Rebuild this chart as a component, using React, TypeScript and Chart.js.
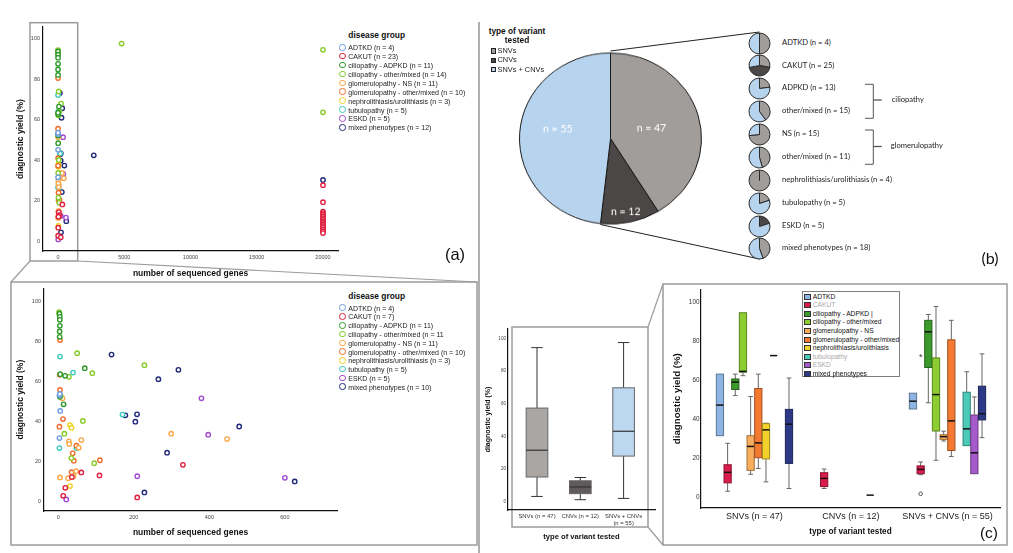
import React, { useEffect, useRef } from "react";
import { Chart, registerables } from "chart.js";

Chart.register(...registerables);

const SANS = '"Liberation Sans", Arial, Helvetica, sans-serif';
const CAL = 'Lato, "Open Sans", sans-serif';
Chart.defaults.font.family = SANS;

const W = 1013;
const H = 553;

// ---------------- (a) scatter data ----------------
const DISEASE_GROUPS = [
  "ADTKD",
  "CAKUT",
  "ciliopathy - ADPKD",
  "ciliopathy - other/mixed",
  "glomerulopathy - NS",
  "glomerulopathy - other/mixed",
  "nephrolithiasis/urolithiasis",
  "tubulopathy",
  "ESKD",
  "mixed phenotypes",
];
const N_ALL_STUDIES = ["4", "23", "11", "14", "11", "10", "3", "5", "5", "12"];
const LEGEND_ALL = DISEASE_GROUPS.map((g, i) => `${g} (n = ${N_ALL_STUDIES[i]})`);
const LEGEND_ZOOM = [
  "ADTKD (n = 4)",
  "CAKUT (n = 7)",
  "ciliopathy - ADPKD (n = 11)",
  "ciliopathy - other/mixed (n = 11",
  "glomerulopathy - NS (n = 11)",
  "glomerulopathy - other/mixed (n = 10)",
  "nephrolithiasis/urolithiasis (n = 3)",
  "tubulopathy (n = 5)",
  "ESKD (n = 5)",
  "mixed phenotypes (n = 10)",
];
const SCATTER_COLORS = [
  "#6d9ede", "#e0203f", "#2f9a2a", "#86cc2a", "#f9a84a",
  "#f26b2a", "#eed21a", "#3ec9bf", "#a24ad0", "#21297a",
];

// [number of sequenced genes, diagnostic yield %]
const PTS_ADTKD = [[3, 52.9], [4, 53.6], [5, 45.1], [3, 31.5]];
const PTS_CAKUT = [[61, 14.3], [109, 12.8], [18.5, 6.6], [13, 2.6], [209, 1.8], [330, 18.1], [36, 12]];
const PTS_ADPKD = [[3, 93.8], [4, 92.2], [4, 90.7], [4, 87.7], [3.5, 84.9], [3.5, 82.2], [70, 66.5], [18, 62.7], [5, 63.5], [4, 52.2], [14, 48.4]];
const PTS_CILIO_OTHER = [[2, 94.5], [3, 93.3], [50, 74], [228, 68], [90, 64], [28, 62.2], [6, 52.8], [65, 40.1], [16, 33.7], [34.5, 21.5], [95, 18.9]];
const PTS_NS = [[11, 51.4], [61, 30.5], [28, 29.9], [29, 28.5], [54, 26.7], [47, 14.9], [4.5, 11.8], [26, 11.4], [40, 12.3], [299, 33.7], [447, 31]];
const PTS_GLOM_OTHER = [[4.5, 80.6], [3.7, 63.2], [4.5, 55.6], [12.5, 41], [3, 37.2], [48, 27.7], [38, 23.9], [41, 20.2], [110, 20.4], [35, 14.4]];
const PTS_NEPHRO = [[31, 38], [35, 36.7], [31, 7.5]];
const PTS_TUBULO = [[4.5, 72.3], [39, 64.3], [48, 26.5], [3, 26.5], [170, 43.3]];
const PTS_ESKD = [[21, 0.8], [209, 12.4], [379, 51.4], [397, 33.2], [600, 11.6]];
const PTS_MIXED = [[141, 73.3], [177.5, 42.9], [208.5, 43.4], [204, 39.7], [228, 4.3], [265, 61], [288, 24.2], [318, 65.7], [479, 37.3], [626, 9.8]];

// studies with more than ~650 genes (only in the full view)
const EXTRA_CAKUT = [
  [20000, 27.6], [20000, 19.2], [20000, 14.5], [20000, 13.7], [20000, 12.9], [20000, 12.1],
  [20000, 11.3], [20000, 10.5], [20000, 9.7], [20000, 8.9], [20000, 8.1], [20000, 7.3],
  [20000, 6.5], [20000, 5.6], [20000, 4.7], [20000, 3.9],
];
const EXTRA_CILIO_OTHER = [[4800, 97.7], [20000, 94.6], [20000, 63.7]];
const EXTRA_MIXED = [[2700, 42.4], [20000, 30.2]];

const ZOOM_POINTS = [
  PTS_ADTKD, PTS_CAKUT, PTS_ADPKD, PTS_CILIO_OTHER, PTS_NS,
  PTS_GLOM_OTHER, PTS_NEPHRO, PTS_TUBULO, PTS_ESKD, PTS_MIXED,
];
const EXTRA_POINTS = [[], EXTRA_CAKUT, [], EXTRA_CILIO_OTHER, [], [], [], [], [], EXTRA_MIXED];
const ALL_POINTS = ZOOM_POINTS.map((p, i) => [...p, ...EXTRA_POINTS[i]]);

const X_TICKS_ALL = [0, 5000, 10000, 15000, 20000];
const X_TICKS_ZOOM = [0, 200, 400, 600];
const Y_TICKS = [0, 20, 40, 60, 80, 100];

// ---------------- (b) pie data ----------------
const VARIANT_TYPES = ["SNVs", "CNVs", "SNVs + CNVs"];
const VARIANT_N = [47, 12, 55];
const VARIANT_COLORS = ["#a19d9a", "#4b4746", "#b7d4ee"];
const PIE_LABEL_R = [0.465, 0.87, 0.59];
const PIE_LABEL_SHIFT = [1, 1.5, 8];

const SUBGROUP_LABELS = [
  "ADTKD (n = 4)",
  "CAKUT (n = 25)",
  "ADPKD (n = 13)",
  "other/mixed (n = 15)",
  "NS (n = 15)",
  "other/mixed (n = 11)",
  "nephrolithiasis/urolithiasis (n = 4)",
  "tubulopathy (n = 5)",
  "ESKD (n = 5)",
  "mixed phenotypes (n = 18)",
];
const SUB_SNV = [2, 7, 3, 6, 11, 5, 4, 1, 0, 8];
const SUB_CNV = [0, 11, 0, 0, 0, 0, 0, 0, 1, 0];
const SUB_BOTH = [2, 7, 10, 9, 4, 6, 0, 4, 4, 10];

// ---------------- (c) box plot data: [min, q1, median, q3, max] ----------------
const VARIANT_TICKS = ["SNVs (n = 47)", "CNVs (n = 12)", ["SNVs + CNVs", "(n = 55)"]];
const VARIANT_BOX = [
  [3.2, 15.1, 31.5, 57.3, 94.3],
  [1.2, 4.9, 9, 12.8, 14.8],
  [2, 27.9, 43.1, 69.7, 97.4],
];
const VARIANT_BOX_COLORS = ["#aaa6a4", "#5f5b5a", "#bcd7f0"];

const BOX_GROUPS = ["SNVs (n = 47)", "CNVs (n = 12)", "SNVs + CNVs (n = 55)"];
const BOX_SNV = [
  [31.5, 31.5, 47.2, 63.1, 63.1],
  [3, 7.3, 12.7, 16.6, 27.6],
  [52.1, 55.2, 59, 60.6, 63.1],
  [62.3, 64.1, 64.5, 94.6, 94.6],
  [11.7, 13.7, 26, 31.5, 51.6],
  [14.7, 20.2, 27.8, 55.7, 63.1],
  [7.8, 19.6, 34.5, 37.7, 37.9],
  [72.6, 72.6, 72.6, 72.6, 72.6],
  null,
  [4.4, 17.3, 37.4, 45, 61.1],
];
const BOX_CNV = [
  null,
  [4.4, 5.4, 9.6, 12.5, 14.4],
  null, null, null, null, null,
  [1, 1, 1, 1, 1],
  null, null,
];
const BOX_BOTH = [
  [45.2, 45.2, 49.2, 53.3, 53.3],
  [11.5, 12, 14.2, 16, 18],
  [48.4, 66.5, 84.8, 90.7, 93.7],
  [18.9, 33.9, 52.6, 71.4, 97.8],
  [28.8, 29.6, 31, 32, 33.8],
  [20.8, 23.9, 39.1, 80.7, 90.7],
  null,
  [26.4, 26.4, 35, 53.8, 64.3],
  [12, 12, 22.7, 42.1, 51.4],
  [30.5, 39.6, 42.8, 56.9, 73.5],
];
// outliers: [group index, disease index, value, marker]
const BOX_OUTLIERS = [
  [2, 1, 1.7, "o"],
  [2, 1, 72.9, "*"],
];
const BOX_COLORS = [
  "#8db4e2", "#d91c4c", "#3c9a2c", "#8ccd30", "#f8ad5c",
  "#f47a32", "#f2d22a", "#4ccab8", "#a55bca", "#2d3987",
];
const C_LEGEND_LABELS = [
  "ADTKD",
  "CAKUT",
  "ciliopathy - ADPKD |",
  "ciliopathy - other/mixed",
  "glomerulopathy - NS",
  "glomerulopathy - other/mixed",
  "nephrolithiasis/urolithiasis",
  "tubulopathy",
  "ESKD",
  "mixed phenotypes",
];
const C_LEGEND_TEXT = ["#111", "#a8a8a8", "#111", "#111", "#111", "#111", "#111", "#a8a8a8", "#a8a8a8", "#111"];

const SLOT = 0.0795;

// ---------------- helpers ----------------
function shade(hex: string, f: number) {
  const n = parseInt(hex.slice(1), 16);
  const r = Math.round(((n >> 16) & 255) * f);
  const g = Math.round(((n >> 8) & 255) * f);
  const b = Math.round((n & 255) * f);
  return `rgb(${r},${g},${b})`;
}

function fixedTicks(list: number[]) {
  return (s: any) => {
    s.ticks = list.map((v) => ({ value: v }));
  };
}

function boxPlugin(boxes: any[], st: any) {
  return {
    id: "boxdraw",
    afterDatasetsDraw(chart: any) {
      const { ctx } = chart;
      const xs = chart.scales.x;
      const ys = chart.scales.y;
      const py = (v: number) => ys.getPixelForValue(v);
      ctx.save();
      for (const b of boxes) {
        const cx = xs.getPixelForValue(b.x);
        const hw = Math.abs(xs.getPixelForValue(b.x + b.w / 2) - cx);
        const cw = hw * st.cap;
        const [mn, q1, md, q3, mx] = b.s;
        ctx.strokeStyle = st.whisker;
        ctx.lineWidth = st.whiskerWidth;
        ctx.beginPath();
        if (mx > q3) {
          ctx.moveTo(cx, py(q3));
          ctx.lineTo(cx, py(mx));
          ctx.moveTo(cx - cw, py(mx));
          ctx.lineTo(cx + cw, py(mx));
        }
        if (mn < q1) {
          ctx.moveTo(cx, py(q1));
          ctx.lineTo(cx, py(mn));
          ctx.moveTo(cx - cw, py(mn));
          ctx.lineTo(cx + cw, py(mn));
        }
        ctx.stroke();
        if (q3 > q1) {
          ctx.fillStyle = b.color;
          ctx.fillRect(cx - hw, py(q3), 2 * hw, py(q1) - py(q3));
          ctx.strokeStyle = b.border;
          ctx.lineWidth = st.boxBorder;
          ctx.strokeRect(cx - hw, py(q3), 2 * hw, py(q1) - py(q3));
        }
        ctx.strokeStyle = st.median;
        ctx.lineWidth = st.medianWidth;
        ctx.beginPath();
        ctx.moveTo(cx - hw, py(md));
        ctx.lineTo(cx + hw, py(md));
        ctx.stroke();
        for (const o of b.out || []) {
          if (o.m === "o") {
            ctx.strokeStyle = "#555";
            ctx.lineWidth = 1;
            ctx.beginPath();
            ctx.arc(cx, py(o.v), 1.8, 0, Math.PI * 2);
            ctx.stroke();
          } else {
            ctx.fillStyle = "#333";
            ctx.font = `9px ${SANS}`;
            ctx.textAlign = "center";
            ctx.textBaseline = "middle";
            ctx.fillText("*", cx, py(o.v) + 2);
          }
        }
      }
      ctx.restore();
    },
  };
}

function scatterConfig(groups: number[][][], o: any) {
  return {
    type: "scatter",
    data: {
      datasets: groups.map((pts, i) => ({
        label: DISEASE_GROUPS[i],
        data: pts.map(([x, y]) => ({ x, y })),
        borderColor: SCATTER_COLORS[i],
        backgroundColor: "#ffffff",
        pointBackgroundColor: "#ffffff",
        pointBorderColor: SCATTER_COLORS[i],
        pointRadius: 2.2,
        pointBorderWidth: 1.4,
        borderWidth: 1.4,
      })),
    },
    options: {
      responsive: false,
      animation: false,
      devicePixelRatio: 1,
      events: [],
      layout: { padding: { left: 0, top: o.padTop, right: o.padRight, bottom: 0 } },
      plugins: { legend: { display: false }, tooltip: { enabled: false } },
      scales: {
        x: {
          type: "linear",
          min: o.xMin,
          max: o.xMax,
          afterBuildTicks: fixedTicks(o.xTicks),
          afterFit: (s: any) => {
            s.height = o.xH;
          },
          grid: { display: false, drawTicks: false },
          border: { display: true, color: "#111", width: 1.2 },
          ticks: {
            autoSkip: false,
            maxRotation: 0,
            font: { size: 5.5 },
            color: "#444",
            padding: 3.5,
            callback: (v: any) => String(v),
          },
          title: {
            display: true,
            text: "number of sequenced genes",
            color: "#111",
            font: { size: 8.5, weight: "bold" },
            padding: { top: 0, bottom: o.titleBottom },
          },
        },
        y: {
          type: "linear",
          min: o.yMin,
          max: o.yMax,
          afterBuildTicks: fixedTicks(Y_TICKS),
          afterFit: (s: any) => {
            s.width = o.yW;
          },
          grid: { display: false, drawTicks: false },
          border: { display: true, color: "#111", width: 1.2 },
          ticks: { autoSkip: false, font: { size: 5.5 }, color: "#444", padding: 3 },
          title: {
            display: true,
            text: "diagnostic yield (%)",
            color: "#111",
            font: { size: 8.5, weight: "bold" },
            padding: { top: o.yTitlePad, bottom: 0 },
          },
        },
      },
    },
  };
}

function buildScatterAll() {
  return scatterConfig(ALL_POINTS, {
    xMin: -1132, xMax: 21132, yMin: -4.95, yMax: 105.9,
    xTicks: X_TICKS_ALL, padTop: 7, padRight: 7, yW: 43, xH: 29,
    titleBottom: 1, yTitlePad: 15.4,
  });
}

function buildScatterZoom() {
  return scatterConfig(ZOOM_POINTS, {
    xMin: -37.9, xMax: 738, yMin: -5, yMax: 106.5,
    xTicks: X_TICKS_ZOOM, padTop: 5, padRight: 8, yW: 44, xH: 31,
    titleBottom: 3.9, yTitlePad: 15.6,
  });
}

const pieLabelPlugin = {
  id: "pielabels",
  afterDatasetsDraw(chart: any) {
    const meta = chart.getDatasetMeta(0);
    const ctx = chart.ctx;
    ctx.save();
    ctx.fillStyle = "#ffffff";
    ctx.font = `10.5px ${CAL}`;
    ctx.textAlign = "center";
    ctx.textBaseline = "middle";
    meta.data.forEach((arc: any, i: number) => {
      const p = arc.getProps(["x", "y", "startAngle", "endAngle", "outerRadius"], true);
      const a = (p.startAngle + p.endAngle) / 2 + (PIE_LABEL_SHIFT[i] * Math.PI) / 180;
      const r = p.outerRadius * PIE_LABEL_R[i];
      ctx.fillText(`n = ${VARIANT_N[i]}`, p.x + r * Math.cos(a), p.y + r * Math.sin(a));
    });
    ctx.restore();
  },
};

function buildPie() {
  return {
    type: "pie",
    data: {
      labels: VARIANT_TYPES,
      datasets: [{ data: VARIANT_N, backgroundColor: VARIANT_COLORS, borderColor: "#1a1a1a", borderWidth: 1 }],
    },
    options: {
      responsive: false,
      animation: false,
      devicePixelRatio: 1,
      events: [],
      layout: { padding: 1 },
      plugins: { legend: { display: false }, tooltip: { enabled: false } },
    },
    plugins: [pieLabelPlugin],
  };
}

function buildSmallPie(i: number) {
  return () => ({
    type: "pie",
    data: {
      labels: VARIANT_TYPES,
      datasets: [{
        data: [SUB_SNV[i], SUB_CNV[i], SUB_BOTH[i]],
        backgroundColor: VARIANT_COLORS,
        borderColor: "#2a2a2a",
        borderWidth: 1,
      }],
    },
    options: {
      responsive: false,
      animation: false,
      devicePixelRatio: 1,
      events: [],
      layout: { padding: 0.5 },
      plugins: { legend: { display: false }, tooltip: { enabled: false } },
    },
  });
}

function buildVariantBox() {
  const boxes = VARIANT_BOX.map((s, i) => ({
    x: i, w: 0.5, s, color: VARIANT_BOX_COLORS[i], border: "#666",
  }));
  return {
    type: "scatter",
    data: { datasets: [] },
    options: {
      responsive: false,
      animation: false,
      devicePixelRatio: 1,
      events: [],
      layout: { padding: { left: 0, top: 9, right: 5, bottom: 0 } },
      plugins: { legend: { display: false }, tooltip: { enabled: false } },
      scales: {
        x: {
          type: "linear",
          min: -0.67,
          max: 2.725,
          afterBuildTicks: fixedTicks([0, 1, 2]),
          afterFit: (s: any) => {
            s.height = 35;
          },
          grid: { display: false, drawTicks: false },
          border: { display: true, color: "#111", width: 1.2 },
          ticks: {
            autoSkip: false,
            maxRotation: 0,
            font: { size: 5.9 },
            color: "#333",
            padding: 2.5,
            callback: (v: any) => VARIANT_TICKS[v],
          },
          title: {
            display: true,
            text: "type of variant tested",
            color: "#111",
            font: { size: 7.6, weight: "bold" },
            padding: { top: 0, bottom: 3.4 },
          },
        },
        y: {
          type: "linear",
          min: -5.1,
          max: 105.7,
          afterBuildTicks: fixedTicks(Y_TICKS),
          afterFit: (s: any) => {
            s.width = 28;
          },
          grid: { display: false, drawTicks: false },
          border: { display: true, color: "#111", width: 1.2 },
          ticks: { autoSkip: false, font: { size: 4.6 }, color: "#444", padding: 2 },
          title: {
            display: true,
            text: "diagnostic yield (%)",
            color: "#111",
            font: { size: 7, weight: "bold" },
            padding: { top: 3.8, bottom: 0 },
          },
        },
      },
    },
    plugins: [boxPlugin(boxes, { cap: 0.53, whisker: "#333", whiskerWidth: 1, boxBorder: 1, median: "#333", medianWidth: 1.2 })],
  };
}

function buildDiseaseBox() {
  const sets = [BOX_SNV, BOX_CNV, BOX_BOTH];
  const boxes: any[] = [];
  sets.forEach((set, g) => {
    set.forEach((s, d) => {
      if (!s) return;
      const out = BOX_OUTLIERS.filter((o) => o[0] === g && o[1] === d).map((o) => ({ v: o[2], m: o[3] }));
      boxes.push({
        x: g + (d - 4.5) * SLOT,
        w: 0.075,
        s,
        color: BOX_COLORS[d],
        border: shade(BOX_COLORS[d], 0.65),
        out,
      });
    });
  });
  return {
    type: "scatter",
    data: { datasets: [] },
    options: {
      responsive: false,
      animation: false,
      devicePixelRatio: 1,
      events: [],
      layout: { padding: { left: 0, top: 3, right: 8, bottom: 0 } },
      plugins: { legend: { display: false }, tooltip: { enabled: false } },
      scales: {
        x: {
          type: "linear",
          min: -0.554,
          max: 2.544,
          afterBuildTicks: fixedTicks([0, 1, 2]),
          afterFit: (s: any) => {
            s.height = 36;
          },
          grid: { display: false, drawTicks: false },
          border: { display: true, color: "#111", width: 1.2 },
          ticks: {
            autoSkip: false,
            maxRotation: 0,
            font: { size: 9 },
            color: "#222",
            padding: 3.6,
            callback: (v: any) => BOX_GROUPS[v],
          },
          title: {
            display: true,
            text: "type of variant tested",
            color: "#111",
            font: { size: 8.2, weight: "bold" },
            padding: { top: 0, bottom: 7 },
          },
        },
        y: {
          type: "linear",
          min: -5.6,
          max: 106.6,
          afterBuildTicks: fixedTicks(Y_TICKS),
          afterFit: (s: any) => {
            s.width = 38;
          },
          grid: { display: false, drawTicks: false },
          border: { display: true, color: "#111", width: 1.2 },
          ticks: { autoSkip: false, font: { size: 6.4 }, color: "#333", padding: 1.5 },
          title: {
            display: true,
            text: "diagnostic yield (%)",
            color: "#111",
            font: { size: 9.7, weight: "bold" },
            padding: { top: 9, bottom: 0 },
          },
        },
      },
    },
    plugins: [boxPlugin(boxes, { cap: 0.65, whisker: "#666", whiskerWidth: 1, boxBorder: 1, median: "#111", medianWidth: 1.5 })],
  };
}

// ---------------- components ----------------
function ChartCanvas({ left, top, width, height, build, style }: any) {
  const ref = useRef<HTMLCanvasElement>(null);
  useEffect(() => {
    const chart = new Chart(ref.current as HTMLCanvasElement, build());
    return () => chart.destroy();
  }, []);
  return (
    <canvas
      ref={ref}
      width={width}
      height={height}
      style={{ position: "absolute", left, top, width, height, display: "block", ...(style || {}) }}
    />
  );
}

function Txt({ x, y, size, children, bold, color, align, font }: any) {
  const tx = align === "center" ? "-50%" : align === "right" ? "-100%" : "0";
  return (
    <div
      style={{
        position: "absolute",
        left: x,
        top: y,
        fontFamily: font || SANS,
        fontSize: size,
        fontWeight: bold ? 700 : 400,
        color: color || "#111",
        whiteSpace: "nowrap",
        lineHeight: 1,
        transform: `translate(${tx}, -50%)`,
      }}
    >
      {children}
    </div>
  );
}

function DiseaseLegend({ x, titleY, firstY, step, labels }: any) {
  return (
    <>
      <Txt x={x + 5.6} y={titleY} size={8.4} bold>
        disease group
      </Txt>
      {labels.map((l: string, i: number) => (
        <React.Fragment key={i}>
          <div
            style={{
              position: "absolute",
              left: x - 3.3,
              top: firstY + i * step - 3.3,
              width: 6.6,
              height: 6.6,
              borderRadius: "50%",
              border: `1.4px solid ${SCATTER_COLORS[i]}`,
              boxSizing: "border-box",
            }}
          />
          <Txt x={x + 5.6} y={firstY + i * step} size={7} color="#1a1a1a">
            {l}
          </Txt>
        </React.Fragment>
      ))}
    </>
  );
}

const SMALL_PIE_Y = [43, 65.5, 88.3, 111, 134, 157, 180, 203, 226, 248];

function Decorations() {
  const g = "#9c9c9c";
  const bracket = "#555";
  return (
    <svg width={W} height={H} style={{ position: "absolute", left: 0, top: 0 }}>
      <rect x={30} y={22.7} width={47.7} height={238.3} fill="none" stroke={g} strokeWidth={1.5} />
      <line x1={30} y1={261} x2={11} y2={282} stroke={g} strokeWidth={1.2} />
      <line x1={77.7} y1={261} x2={477} y2={282} stroke={g} strokeWidth={1.2} />
      <rect x={11} y={282} width={466} height={263} fill="none" stroke={g} strokeWidth={1.5} />
      <line x1={479} y1={22} x2={479} y2={553} stroke="#b0b0b0" strokeWidth={2} />
      <line x1={610.5} y1={51} x2={759.5} y2={32} stroke="#222" strokeWidth={1} />
      <line x1={600.4} y1={224.5} x2={759.5} y2={259} stroke="#222" strokeWidth={1} />
      <polyline points="865,84.3 873.3,84.3 873.3,118.3 865,118.3" fill="none" stroke={bracket} strokeWidth={1} />
      <line x1={873.3} y1={100} x2={881.7} y2={100} stroke={bracket} strokeWidth={1.3} />
      <polyline points="865,130 873.3,130 873.3,164.3 865,164.3" fill="none" stroke={bracket} strokeWidth={1} />
      <line x1={873.3} y1={146.5} x2={881.7} y2={146.5} stroke={bracket} strokeWidth={1.3} />
      <rect x={512} y={327} width={136} height={200} fill="none" stroke={g} strokeWidth={1.5} />
      <line x1={648} y1={327} x2={663} y2={284} stroke={g} strokeWidth={1.2} />
      <line x1={648} y1={527} x2={663} y2={545} stroke={g} strokeWidth={1.2} />
      <rect x={663} y={284} width={344} height={261} fill="none" stroke={g} strokeWidth={1.5} />
    </svg>
  );
}

export default function App() {
  return (
    <div style={{ position: "absolute", left: 0, top: 0, width: W, height: H, background: "#fff", overflow: "hidden" }}>
      <Decorations />

      {/* (a) */}
      <ChartCanvas left={0} top={20} width={345} height={260} build={buildScatterAll} />
      <ChartCanvas left={0} top={282} width={345} height={260} build={buildScatterZoom} />
      <DiseaseLegend x={342.7} titleY={35} firstY={47.3} step={8.89} labels={LEGEND_ALL} />
      <DiseaseLegend x={342.7} titleY={295.7} firstY={307.7} step={8.78} labels={LEGEND_ZOOM} />
      <Txt x={455} y={254} size={16.5} align="center">
        (a)
      </Txt>

      {/* (b) */}
      <Txt x={517} y={31} size={8.3} bold align="center">
        type of variant
      </Txt>
      <Txt x={517} y={39.5} size={8.3} bold align="center">
        tested
      </Txt>
      {VARIANT_TYPES.map((t, i) => (
        <React.Fragment key={t}>
          <div
            style={{
              position: "absolute",
              left: 490.5,
              top: [51, 60.3, 69.7][i] - 2.8,
              width: 5.6,
              height: 5.6,
              background: VARIANT_COLORS[i],
              border: "1px solid #222",
              boxSizing: "border-box",
            }}
          />
          <Txt x={497.5} y={[51, 60.3, 69.7][i]} size={7.4} color="#222">
            {t}
          </Txt>
        </React.Fragment>
      ))}
      <ChartCanvas
        left={518}
        top={45.5}
        width={185}
        height={185}
        build={buildPie}
        style={{ transform: "scaleY(0.94)", transformOrigin: "50% 50%" }}
      />
      {SUBGROUP_LABELS.map((l, i) => (
        <React.Fragment key={l + i}>
          <ChartCanvas left={748} top={SMALL_PIE_Y[i] - 11.5} width={23} height={23} build={buildSmallPie(i)} />
          <Txt x={782} y={SMALL_PIE_Y[i]} size={7.6} font={CAL} color="#222">
            {l}
          </Txt>
        </React.Fragment>
      ))}
      <Txt x={891.7} y={100} size={7.6} font={CAL} color="#222">
        ciliopathy
      </Txt>
      <Txt x={890.7} y={146} size={7.6} font={CAL} color="#222">
        glomerulopathy
      </Txt>
      <Txt x={990} y={258} size={16} font={CAL} align="center">
        (b)
      </Txt>

      {/* (c) */}
      <ChartCanvas left={480} top={320} width={180} height={225} build={buildVariantBox} />
      <ChartCanvas left={663} top={284} width={345} height={260} build={buildDiseaseBox} />
      <div
        style={{
          position: "absolute",
          left: 802,
          top: 291,
          width: 98,
          height: 86,
          border: "1px solid #808080",
          boxSizing: "border-box",
          background: "#fff",
        }}
      />
      {C_LEGEND_LABELS.map((l, i) => (
        <React.Fragment key={l}>
          <div
            style={{
              position: "absolute",
              left: 804.3,
              top: 296.7 + i * 8.56 - 3,
              width: 6.8,
              height: 6,
              background: BOX_COLORS[i],
              border: "1px solid #333",
              boxSizing: "border-box",
            }}
          />
          <Txt x={812.7} y={296.7 + i * 8.56} size={6.7} color={C_LEGEND_TEXT[i]}>
            {l}
          </Txt>
        </React.Fragment>
      ))}
      <Txt x={989} y={533} size={15.5} align="center">
        (c)
      </Txt>
    </div>
  );
}
